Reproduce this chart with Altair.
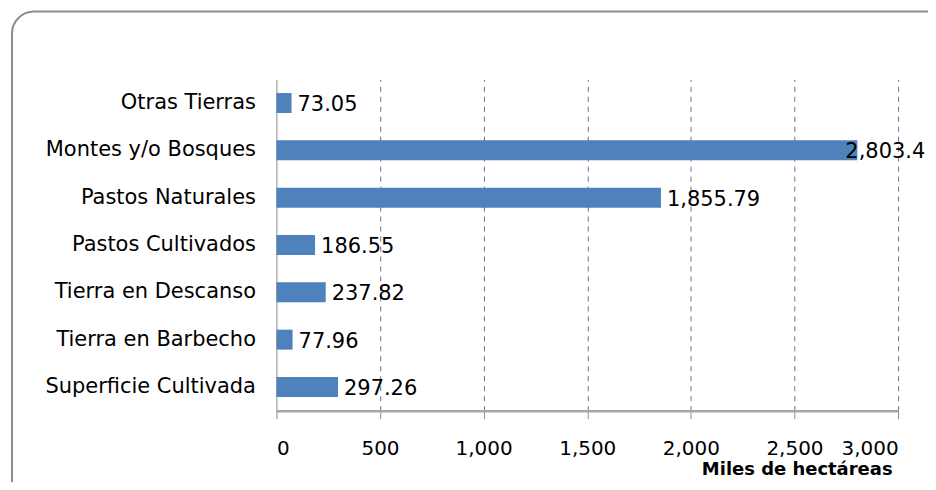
import altair as alt
import pandas as pd

categories = ["Otras Tierras", "Montes y/o Bosques", "Pastos Naturales",
              "Pastos Cultivados", "Tierra en Descanso", "Tierra en Barbecho",
              "Superficie Cultivada"]
values = [73.05, 2803.4, 1855.79, 186.55, 237.82, 77.96, 297.26]
x_ticks = [0, 500, 1000, 1500, 2000, 2500, 3000]

df = pd.DataFrame({"categoria": categories, "valor": values})

W, H = 623, 332
FONT = "DejaVu Sans"

frame = alt.Chart(pd.DataFrame({"a": [0]})).mark_rect(
    fillOpacity=0, stroke="#8c8c8c", strokeWidth=2, cornerRadius=22
).encode(
    x=alt.value(-265), x2=alt.value(720),
    y=alt.value(-68), y2=alt.value(440)
)

base = alt.Chart(df).encode(
    y=alt.Y("categoria:N", sort=categories,
            axis=alt.Axis(title=None, ticks=False, labelPadding=21,
                          labelFont=FONT, labelFontSize=21, labelColor="#000000",
                          domainColor="#8c8c8c", domainWidth=1, labelLimit=300)),
    x=alt.X("valor:Q", scale=alt.Scale(domain=[0, 3000], nice=False),
            axis=alt.Axis(values=x_ticks, format=",d", grid=True,
                          gridDash=[5, 5], gridColor="#6a6a9a", gridWidth=1,
                          gridOpacity=alt.condition("datum.value == 0", alt.value(0), alt.value(1)),
                          tickColor="#8c8c8c", tickSize=8,
                          domainColor="#a6a6a6", domainWidth=2.5,
                          labelFont=FONT, labelFontSize=20, labelColor="#000000",
                          labelPadding=20,
                          title="Miles de hectáreas", titleAnchor="end",
                          titleAlign="right", titleX=617,
                          titleFont=FONT, titleFontSize=18, titleFontWeight="bold",
                          titleColor="#000000", titlePadding=2)),
)

bars = base.mark_bar(color="#4F81BD", size=20)
labels = base.mark_text(align="left", baseline="middle", dx=6, dy=2,
                        font=FONT, fontSize=21, color="#000000").encode(
    text=alt.Text("valor:Q", format=",.2~f")
).transform_filter("datum.valor < 2500")
labels_big = base.mark_text(align="left", baseline="middle", dx=-12, dy=2,
                            font=FONT, fontSize=21, color="#000000").encode(
    text=alt.Text("valor:Q", format=",.2~f")
).transform_filter("datum.valor >= 2500")

chart = alt.layer(frame, bars, labels, labels_big).properties(
    width=W, height=H,
    padding={"left": 269, "top": 71, "right": 30, "bottom": 71},
    autosize=alt.AutoSizeParams(type="none"),
    background="#ffffff",
).configure_view(stroke=None)

chart.save("out.html", embed_options={"renderer": "svg", "actions": False})
